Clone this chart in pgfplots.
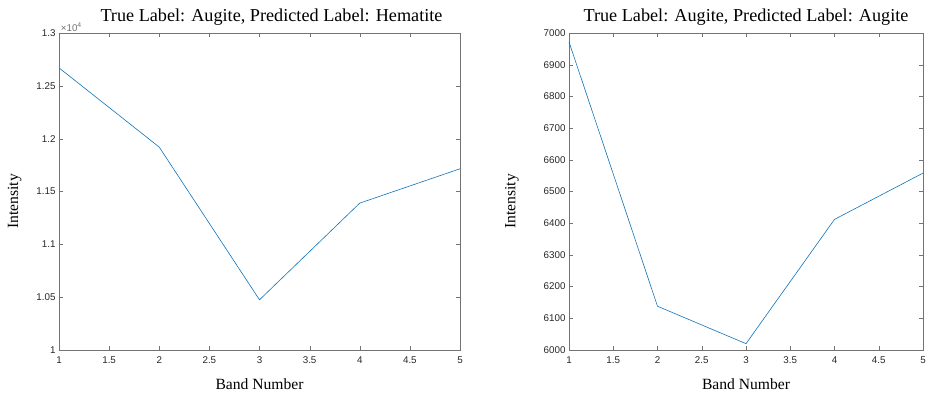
\documentclass[border=0pt]{standalone}
\usepackage{pgfplots}
\pgfplotsset{compat=1.18}
\usepackage{fontspec}
\setmainfont{Liberation Serif}
\newfontfamily\tickfont{Liberation Sans}
\definecolor{mblue}{rgb}{0.05,0.45,0.72}
\definecolor{axgray}{gray}{0.45}
\pgfplotsset{
  mstyle/.style={
    scale only axis, height=317pt, clip=false,
    xmin=1, xmax=5, xtick={1,1.5,...,5},
    tick align=inside, major tick length=4pt,
    axis line style={axgray}, tick style={axgray},
    ticklabel style={font=\tickfont\fontsize{9.8}{10}\selectfont, text=black!85},
    /pgf/number format/assume math mode=true,
    /pgf/number format/1000 sep={},
    xlabel={Band Number}, ylabel={Intensity},
    label style={font=\fontsize{15.6}{18}\selectfont},
    xlabel style={yshift=-8pt},
    title style={font=\fontsize{18.2}{20}\selectfont, inner sep=1pt, yshift=0.5pt},
    xticklabel style={yshift=-3pt},
  }
}
\begin{document}
\begin{tikzpicture}
\path[use as bounding box] (0,0) rectangle (931pt,393pt);
\begin{axis}[mstyle, at={(59pt,43pt)}, anchor=south west, width=401pt,
  ymin=10000, ymax=13000, ytick={10000,10500,...,13000},
  scaled y ticks=manual:{}{\pgfmathparse{#1/10000}},
  yticklabel style={/pgf/number format/fixed, /pgf/number format/precision=2},
  title={True Label: Augite, Predicted Label: Hematite},
  title style={xshift=12pt},
  ylabel style={yshift=8pt, xshift=-10pt}]
\addplot[mblue, line width=0.6pt, no marks] coordinates {(1,12670) (2,11920) (3,10475) (4,11390) (5,11715)};
\node[anchor=south west, inner sep=0pt, yshift=1.5pt, font=\tickfont\fontsize{9.8}{10}\selectfont, text=axgray] at (rel axis cs:0,1) {\,×10\textsuperscript{4}};
\end{axis}
\begin{axis}[mstyle, at={(569pt,43pt)}, anchor=south west, width=354pt,
  ymin=6000, ymax=7000, ytick={6000,6100,...,7000},
  title={True Label: Augite, Predicted Label: Augite},
  ylabel style={yshift=18pt, xshift=-10pt}]
\addplot[mblue, line width=0.6pt, no marks] coordinates {(1,6972) (2,6138) (3,6020) (4,6412) (5,6558)};
\end{axis}
\end{tikzpicture}
\end{document}
